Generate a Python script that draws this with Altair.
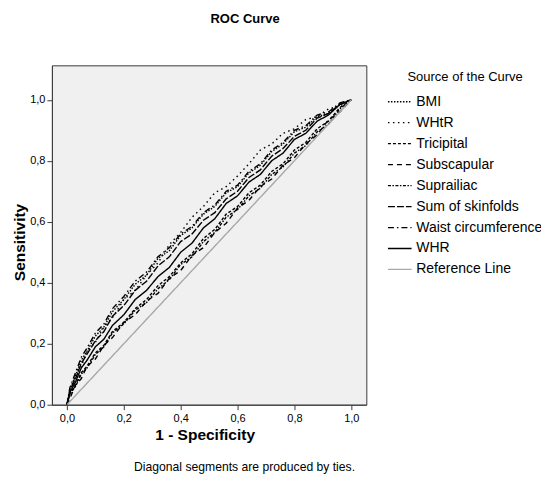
import altair as alt
import pandas as pd

# ---- data ----
fpr = [0, 0.01, 0.03, 0.05, 0.07, 0.10, 0.13, 0.16, 0.20, 0.24, 0.28, 0.32, 0.36,
       0.40, 0.44, 0.48, 0.52, 0.56, 0.60, 0.64, 0.68, 0.72, 0.76, 0.80, 0.84,
       0.88, 0.92, 0.96, 1.0]

bmi = [0, 0.05, 0.095, 0.145, 0.175, 0.225, 0.255, 0.305, 0.345, 0.395, 0.425, 0.48, 0.505,
       0.555, 0.58, 0.625, 0.65, 0.695, 0.715, 0.76, 0.785, 0.83, 0.855, 0.895, 0.91,
       0.945, 0.955, 0.985, 1.0]
whtr = [0, 0.04, 0.095, 0.125, 0.175, 0.205, 0.255, 0.285, 0.345, 0.375, 0.425, 0.465, 0.525,
        0.565, 0.615, 0.65, 0.695, 0.715, 0.75, 0.79, 0.835, 0.855, 0.89, 0.905, 0.935,
        0.945, 0.97, 0.98, 1.0]
tricipital = [0, 0.035, 0.065, 0.105, 0.125, 0.17, 0.195, 0.24, 0.27, 0.315, 0.345, 0.39, 0.42,
              0.465, 0.495, 0.545, 0.575, 0.625, 0.65, 0.695, 0.72, 0.765, 0.79, 0.835, 0.86,
              0.905, 0.93, 0.975, 1.0]
subscapular = [0, 0.02, 0.065, 0.085, 0.125, 0.15, 0.195, 0.22, 0.27, 0.295, 0.34, 0.365, 0.415,
               0.44, 0.49, 0.515, 0.565, 0.595, 0.645, 0.67, 0.715, 0.74, 0.785, 0.81, 0.855,
               0.885, 0.935, 0.96, 1.0]
suprailiac = [0, 0.035, 0.06, 0.1, 0.12, 0.165, 0.19, 0.235, 0.265, 0.31, 0.335, 0.38, 0.41,
              0.46, 0.485, 0.535, 0.565, 0.615, 0.64, 0.685, 0.71, 0.755, 0.78, 0.825, 0.85,
              0.895, 0.92, 0.97, 1.0]
sum_skinfolds = [0, 0.045, 0.085, 0.135, 0.165, 0.21, 0.24, 0.29, 0.325, 0.375, 0.405, 0.455, 0.485,
                 0.535, 0.56, 0.605, 0.63, 0.675, 0.7, 0.745, 0.77, 0.815, 0.84, 0.88, 0.9,
                 0.94, 0.955, 0.985, 1.0]
waist = [0, 0.055, 0.105, 0.155, 0.185, 0.235, 0.265, 0.315, 0.355, 0.405, 0.435, 0.485, 0.515,
         0.56, 0.585, 0.63, 0.655, 0.7, 0.72, 0.765, 0.79, 0.835, 0.86, 0.9, 0.915,
         0.95, 0.96, 0.99, 1.0]
whr = [0, 0.04, 0.075, 0.12, 0.145, 0.19, 0.215, 0.26, 0.295, 0.345, 0.375, 0.42, 0.45,
       0.5, 0.53, 0.58, 0.61, 0.66, 0.685, 0.73, 0.755, 0.8, 0.825, 0.87, 0.89,
       0.93, 0.95, 0.985, 1.0]
ref_x = [0, 1]
ref_y = [0, 1]

series_names = ["BMI", "WHtR", "Tricipital", "Subscapular", "Suprailiac",
                "Sum of skinfolds", "Waist circumference", "WHR", "Reference Line"]
series_values = [bmi, whtr, tricipital, subscapular, suprailiac,
                 sum_skinfolds, waist, whr]

dashes = [[1.5, 1.5], [1.5, 3.5], [3, 2], [5, 4], [3, 1.5, 1.5, 1.5],
          [7, 2], [6, 3, 1.5, 3], [1, 0], [1, 0]]
colors = ["#000000"] * 8 + ["#A8A8A8"]

rows = []
for name, ys in zip(series_names[:8], series_values):
    for i, (x, y) in enumerate(zip(fpr, ys)):
        rows.append({"Source": name, "fpr": x, "tpr": y, "order": i})
for i, (x, y) in enumerate(zip(ref_x, ref_y)):
    rows.append({"Source": "Reference Line", "fpr": x, "tpr": y, "order": i})
df = pd.DataFrame(rows)

FONT = "Liberation Sans"
comma = "replace(format(datum.value, '.1f'), '.', ',')"

lines = alt.Chart(df).mark_line(strokeWidth=1.4, clip=True).encode(
    x=alt.X("fpr:Q", scale=alt.Scale(domain=[-0.053, 1.053], nice=False, zero=False),
            axis=alt.Axis(title="1 - Specificity", values=[0, 0.2, 0.4, 0.6, 0.8, 1.0],
                          labelExpr=comma, grid=False, tickSize=5, labelPadding=3,
                          titlePadding=4, titleFontSize=15.5, titleFontWeight="bold",
                          titleX=153)),
    y=alt.Y("tpr:Q", scale=alt.Scale(domain=[0, 1.113], nice=False),
            axis=alt.Axis(title="Sensitivity", values=[0, 0.2, 0.4, 0.6, 0.8, 1.0],
                          labelExpr=comma, grid=False, tickSize=5, labelPadding=2,
                          titlePadding=2, titleFontSize=15.5, titleFontWeight="bold",
                          titleY=177)),
    order="order:Q",
    color=alt.Color("Source:N", scale=alt.Scale(domain=series_names, range=colors),
                    legend=alt.Legend(title="Source of the Curve")),
    strokeDash=alt.StrokeDash("Source:N", scale=alt.Scale(domain=series_names, range=dashes),
                              legend=alt.Legend(title="Source of the Curve")),
)

footer = alt.Chart(pd.DataFrame({"t": ["Diagonal segments are produced by ties."]})).mark_text(
    font=FONT, fontSize=12.2, baseline="middle", align="center", clip=False, color="#000"
).encode(text="t:N", x=alt.value(193), y=alt.value(402))

chart = alt.layer(lines, footer).properties(
    width=315, height=340,
    title=alt.Title("ROC Curve", fontSize=13, fontWeight="bold", font=FONT,
                    anchor="middle", dx=36, offset=39, color="#000"),
    autosize=alt.AutoSizeParams(type="none"),
    padding={"left": 44, "top": 57, "right": 175, "bottom": 70},
).configure_view(
    fill="#F0F0F0", stroke="#3C3C3C", strokeWidth=1
).configure_axis(
    labelFont=FONT, titleFont=FONT, labelFontSize=11, labelColor="#000",
    titleColor="#000", tickColor="#3C3C3C", domainColor="#3C3C3C"
).configure_legend(
    orient="none", legendX=336, legendY=6, symbolType="stroke", symbolSize=560,
    symbolStrokeWidth=1.3, labelFont=FONT, titleFont=FONT, labelFontSize=14,
    titleFontSize=13, titleFontWeight="normal", titleAnchor="middle",
    rowPadding=1, labelOffset=4, titlePadding=5, labelColor="#000", titleColor="#000"
)

chart.save("out.html", embed_options={"renderer": "svg", "actions": False})
